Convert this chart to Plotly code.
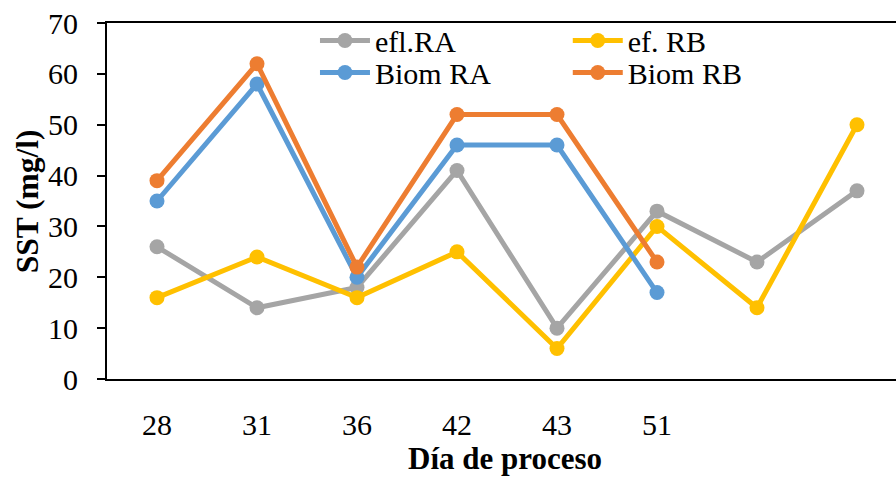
import plotly.graph_objects as go

# Day of process (last two sampling days have no printed label)
dias = ["28", "31", "36", "42", "43", "51", "", ""]
x_pos = list(range(len(dias)))

efl_ra = [26, 14, 18, 41, 10, 33, 23, 37]
ef_rb = [16, 24, 16, 25, 6, 30, 14, 50]
biom_ra = [35, 58, 20, 46, 46, 17]
biom_rb = [39, 62, 22, 52, 52, 23]

# name, values, colour, legend id (one legend box per slot of the 2x2 key)
series = [
    ("efl.RA", efl_ra, "#A5A5A5", "legend"),
    ("ef. RB", ef_rb, "#FFC000", "legend2"),
    ("Biom RA", biom_ra, "#5B9BD5", "legend3"),
    ("Biom RB", biom_rb, "#ED7D31", "legend4"),
]

FONT = "Liberation Serif"

fig = go.Figure()
for name, vals, color, lg in series:
    fig.add_trace(go.Scatter(
        x=x_pos[:len(vals)], y=vals, name=name, mode="lines+markers",
        line=dict(color=color, width=5),
        marker=dict(color=color, size=15),
        legend=lg,
    ))

col_x = [0.2636, 0.584]
row_y = [0.951, 0.861]


def key_box(x, y):
    return dict(x=x, y=y, xanchor="left", yanchor="middle",
                font=dict(size=30, family=FONT, color="black"),
                bgcolor="rgba(0,0,0,0)", itemwidth=50)


fig.update_layout(
    width=896, height=477,
    margin=dict(l=107, r=0, t=23, b=98),
    paper_bgcolor="white", plot_bgcolor="white",
    font=dict(family=FONT, color="black"),
    legend=key_box(col_x[0], row_y[0]),
    legend2=key_box(col_x[1], row_y[0]),
    legend3=key_box(col_x[0], row_y[1]),
    legend4=key_box(col_x[1], row_y[1]),
    showlegend=True,
)

fig.update_xaxes(
    range=[-0.5, 7.39],
    tickmode="array", tickvals=x_pos, ticktext=dias,
    ticks="", showgrid=False, zeroline=False,
    showline=True, linecolor="black", linewidth=2, mirror=True,
    tickfont=dict(size=30, family=FONT, color="black"),
    ticklabelstandoff=18,
)
fig.update_yaxes(
    range=[0, 70], tickvals=[0, 10, 20, 30, 40, 50, 60, 70],
    ticks="outside", ticklen=8, tickwidth=2, tickcolor="black",
    showgrid=False, zeroline=False,
    showline=True, linecolor="black", linewidth=2,
    tickfont=dict(size=30, family=FONT, color="black"),
    ticklabelstandoff=13,
)

fig.add_annotation(text="<b>Día de proceso</b>", xref="paper", yref="paper",
                   x=0.504, y=-0.224, xanchor="center", yanchor="middle",
                   showarrow=False, font=dict(size=31, family=FONT, color="black"))
fig.add_annotation(text="<b>SST (mg/l)</b>", xref="paper", yref="paper",
                   x=-0.101, y=0.5, xanchor="center", yanchor="middle",
                   textangle=-90, showarrow=False,
                   font=dict(size=31.5, family=FONT, color="black"))

fig.write_html("out.html")
